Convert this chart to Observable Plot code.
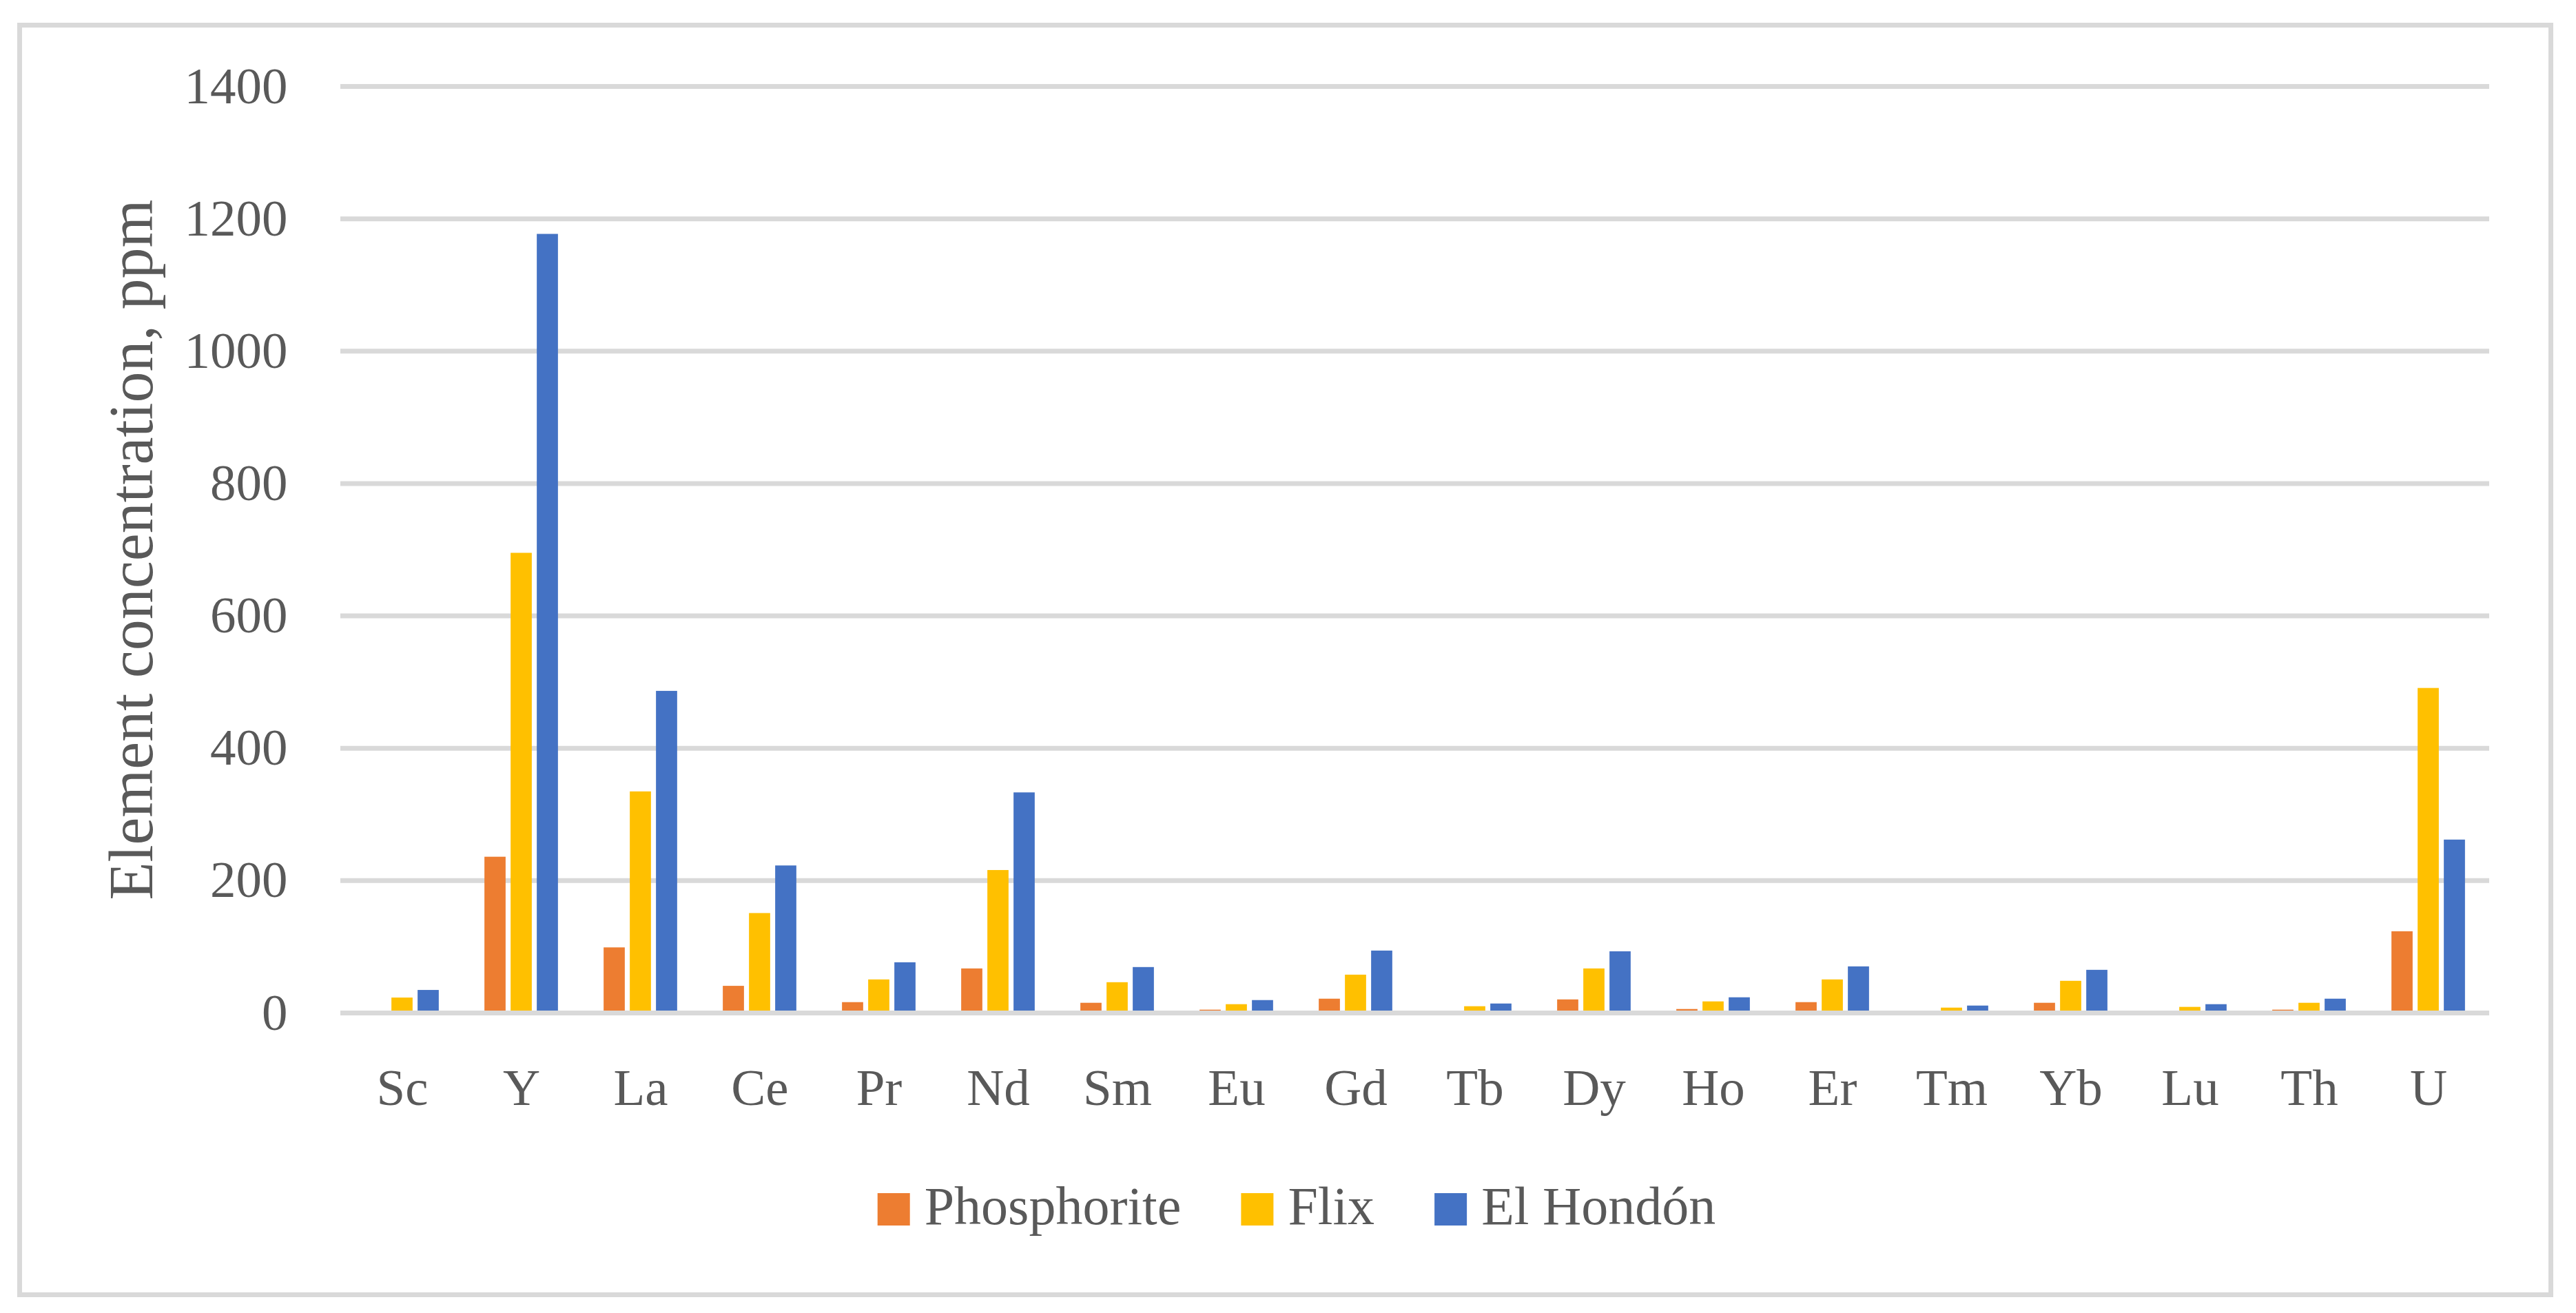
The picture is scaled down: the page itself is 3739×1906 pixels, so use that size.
<!DOCTYPE html>
<html><head><meta charset="utf-8">
<script src="https://cdn.jsdelivr.net/npm/d3@7"></script>
<script src="https://cdn.jsdelivr.net/npm/@observablehq/plot@0.6"></script>
<style>
html,body{margin:0;padding:0;background:#fff;}
#wrap{position:relative;width:3739px;height:1906px;overflow:hidden;font-family:"Liberation Serif",serif;}
#frame{position:absolute;left:25px;top:33px;width:3681px;height:1850px;border:7px solid #d9d9d9;box-sizing:border-box;}
#chart{position:absolute;left:0;top:0;}
#legend{position:absolute;left:0;top:1700px;}
</style></head><body>
<div id="wrap"><div id="frame"></div><div id="chart"></div><div id="legend"></div></div>
<script>
const elements = ["Sc","Y","La","Ce","Pr","Nd","Sm","Eu","Gd","Tb","Dy","Ho","Er","Tm","Yb","Lu","Th","U"];
const seriesNames = ["Phosphorite","Flix","El Hondón"];
const seriesColors = ["#ED7D31","#FFC000","#4472C4"];
const phosphorite = [1.5, 235.6, 98.6, 40.5, 15.9, 66.8, 14.9, 4.5, 21.1, 1.5, 20, 5.5, 15.9, 1, 14.9, 1, 4.5, 123];
const flix = [22.8, 694.8, 334.3, 150.5, 50.2, 215.5, 46, 12.8, 57.4, 9.7, 66.8, 17, 50.2, 7.6, 48.1, 8.7, 14.9, 490.6];
const elHondon = [34.3, 1176.7, 486.2, 222.4, 76.1, 332.8, 68.9, 19, 93.8, 13.8, 92.7, 23.2, 69.9, 10.7, 64.7, 12.8, 21.1, 261.5];
const yTicks = [0, 200, 400, 600, 800, 1000, 1200, 1400];
const yTitle = "Element concentration, ppm";

const seriesValues = [phosphorite, flix, elHondon];
const rows = [];
seriesNames.forEach((s, i) => elements.forEach((e, j) => rows.push({element: e, series: s, value: seriesValues[i][j]})));

const W = 3739, H = 1660;
const mL = 494, mR = 126, mT = 125, mB = H - 1470;
const band = (W - mL - mR) / elements.length;
const barW = 31, gap = 7;
const groupW = 3 * barW + 2 * gap;

const barMarks = seriesNames.map((s, i) => {
  const left = (band - groupW) / 2 + i * (barW + gap);
  return Plot.barY(rows.filter(d => d.series === s), {
    x: "element", y: "value", fill: "series",
    insetLeft: left, insetRight: band - left - barW
  });
});

const chart = Plot.plot({
  width: W, height: H,
  marginLeft: mL, marginRight: mR, marginTop: mT, marginBottom: mB,
  style: {fontFamily: '"Liberation Serif", serif', fontSize: "75px", color: "#595959", background: "transparent"},
  x: {domain: elements, padding: 0, tickSize: 0, tickPadding: 80, label: null},
  y: {domain: [0, 1400], ticks: yTicks, tickSize: 0, tickPadding: 77, label: null, tickFormat: d => String(d)},
  color: {domain: seriesNames, range: seriesColors},
  marks: [
    Plot.ruleY(yTicks.filter(t => t > 0), {stroke: "#d9d9d9", strokeWidth: 7}),
    ...barMarks,
    Plot.ruleY([0], {stroke: "#d9d9d9", strokeWidth: 7}),
    Plot.text([yTitle], {frameAnchor: "left", textAnchor: "middle", rotate: -90, dx: -274, lineAnchor: "bottom", fontSize: 90, fill: "#595959"})
  ]
});
document.getElementById("chart").appendChild(chart);

// legend
const lg = d3.select("#legend").append("svg").attr("width", W).attr("height", 150)
  .style("font-family", '"Liberation Serif", serif');
const sw = 47, swGap = 21, itemGap = 87;
const items = seriesNames.map((s, i) => {
  const g = lg.append("g");
  g.append("rect").attr("width", sw).attr("height", sw).attr("y", 32).attr("fill", seriesColors[i]);
  const t = g.append("text").attr("x", sw + swGap).attr("y", 77).attr("font-size", 78).attr("fill", "#595959").text(s);
  return {g, w: sw + swGap + t.node().getComputedTextLength()};
});
const total = d3.sum(items, d => d.w) + itemGap * (items.length - 1);
let x0 = 1882 - total / 2;
items.forEach(it => { it.g.attr("transform", `translate(${x0},0)`); x0 += it.w + itemGap; });
</script>
</body></html>
